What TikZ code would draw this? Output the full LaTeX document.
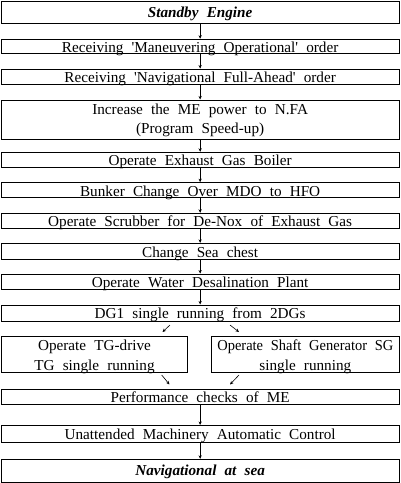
\documentclass[tikz,border=0pt]{standalone}
\usepackage{fontspec}
\setmainfont{Liberation Serif}[WordSpace=2.15]
\usetikzlibrary{arrows.meta}
\newcommand\fsz{\fontsize{15.2}{19.6}\selectfont}
\newcommand\sq{\textquotesingle}
\newcommand\twolines[3]{\raisebox{#1}[0pt][0pt]{\begin{tabular}[t]{@{}c@{}}#2\\#3\end{tabular}}}
\begin{document}
\begin{tikzpicture}[x=1pt,y=-1pt,
  box/.style={draw, line width=1pt, inner sep=0pt, align=center, font=\fsz},
  wide/.style={minimum width=397.7pt},
  ofs/.style={text height={6.8pt+#1}, text depth={6.8pt-#1}},
  arr/.style={line width=0.6pt, -{Stealth[length=3.5pt,width=3.2pt]}}]
\useasboundingbox (0,0) rectangle (400,483);
\node[box,wide,ofs=4.8pt,minimum height=22.4pt,font=\fsz\bfseries\itshape] (n1) at (200.15,12.5) {Standby Engine};
\node[box,wide,ofs=5.9pt,minimum height=14.7pt] (n2) at (200.15,46.6) {Receiving \sq Maneuvering Operational\sq{} order};
\node[box,wide,ofs=5.9pt,minimum height=15.3pt] (n3) at (200.15,76.7) {Receiving \sq Navigational Full-Ahead\sq{} order};
\node[box,wide,minimum height=39pt] (n4) at (200.15,119.5) {\twolines{5.4pt}{Increase the ME power to N.FA}{(Program Speed-up)}};
\node[box,wide,ofs=5.8pt,minimum height=15pt] (n5) at (200.15,159.8) {Operate Exhaust Gas Boiler};
\node[box,wide,ofs=5.8pt,minimum height=15.3pt] (n6) at (200.15,190.3) {Bunker Change Over MDO to HFO};
\node[box,wide,ofs=5.8pt,minimum height=15pt] (n7) at (200.15,220.8) {Operate Scrubber for De-Nox of Exhaust Gas};
\node[box,wide,ofs=5.8pt,minimum height=15.7pt] (n8) at (200.15,251.2) {Change Sea chest};
\node[box,wide,ofs=5.8pt,minimum height=15.3pt] (n9) at (200.15,281.7) {Operate Water Desalination Plant};
\node[box,wide,ofs=5.8pt,minimum height=16pt] (n10) at (200.15,313) {DG1 single running from 2DGs};
\node[box,minimum width=186.4pt,minimum height=36pt] (tg) at (94.5,354.5) {\twolines{4pt}{Operate TG-drive}{TG single running}};
\node[box,minimum width=187.3pt,minimum height=36pt] (sg) at (305.35,354.5) {\twolines{4pt}{\scalebox{0.952}[1]{Operate Shaft Generator SG}}{single running}};
\node[box,wide,ofs=5.8pt,minimum height=15pt] (n11) at (200.15,396.8) {Performance checks of ME};
\node[box,wide,ofs=5pt,minimum height=17.5pt] (n12) at (200.15,434.2) {Unattended Machinery Automatic Control};
\node[box,wide,ofs=4.5pt,minimum height=23pt,font=\fsz\bfseries\itshape] (n13) at (200.15,470.8) {Navigational at sea};
\foreach \a/\b in {n1/n2,n2/n3,n3/n4,n4/n5,n5/n6,n6/n7,n7/n8,n8/n9,n9/n10,n11/n12,n12/n13}
  \draw[arr] (\a.south) -- (\b.north);
\coordinate (d1s) at (170,325);
\coordinate (d1e) at (162.5,332);
\coordinate (d2s) at (230,325);
\coordinate (d2e) at (239,332);
\coordinate (d3s) at (161.7,375);
\coordinate (d3e) at (169.5,384.5);
\coordinate (d4s) at (239,375);
\coordinate (d4e) at (230,384.5);
\draw[arr] (d1s) -- (d1e);
\draw[arr] (d2s) -- (d2e);
\draw[arr] (d3s) -- (d3e);
\draw[arr] (d4s) -- (d4e);
\end{tikzpicture}
\end{document}
